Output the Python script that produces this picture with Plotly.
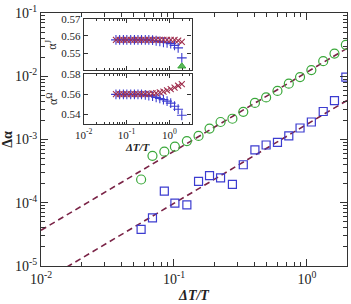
import plotly.graph_objects as go

# ---------------- data ----------------
dT = [0.0566, 0.0689, 0.0846, 0.1016, 0.125, 0.153, 0.185, 0.224, 0.275, 0.332,
      0.406, 0.493, 0.600, 0.730, 0.887, 1.079, 1.325, 1.61, 1.96]

dalpha_circ = [2.33e-4, 5.51e-4, 6.43e-4, 7.69e-4, 9.44e-4, 1.14e-3, 1.49e-3, 1.89e-3,
               2.13e-3, 2.74e-3, 3.78e-3, 4.62e-3, 5.87e-3, 7.64e-3, 9.72e-3, 1.25e-2,
               1.73e-2, 2.28e-2, 3.14e-2]
dalpha_sq = [3.79e-5, 5.75e-5, 1.53e-4, 9.86e-5, 9.27e-5, 2.17e-4, 2.69e-4, 2.48e-4,
             1.95e-4, 3.99e-4, 6.84e-4, 8.18e-4, 9.02e-4, 1.14e-3, 1.52e-3, 1.89e-3,
             2.77e-3, 4.11e-3, 9.72e-3]

fit_exponent = 1.25
fit_amp_upper = 10 ** -1.935
fit_amp_lower = 10 ** -2.759
fit_x = [0.01, 2.0]

# inset top (alpha^J)
aJ_x = [0.5577] * 17 + [0.5572, 0.5565]
aJ_plus = [0.5577] * 10 + [0.5575, 0.5572, 0.5568, 0.5563, 0.5560, 0.5555, 0.5545, 0.5530, 0.5472]
aJ_tri_x = [1.96]
aJ_tri = [0.5423]

# inset bottom (alpha^Omega)
aO_x = [0.5600] * 9 + [0.5603, 0.5607, 0.5610, 0.5617, 0.5625, 0.5637, 0.5650, 0.5665, 0.5683, 0.5700]
aO_plus = [0.5597] * 8 + [0.5592, 0.5585, 0.5580, 0.5568, 0.5557, 0.5545, 0.5530, 0.5510, 0.5480, 0.5450, 0.5390]

# tick labels
x_tickvals = [0.01, 0.1, 1]
x_ticktext = ["10<sup>-2</sup>", "10<sup>-1</sup>", "10<sup>0</sup>"]
y_tickvals = [1e-5, 1e-4, 1e-3, 1e-2, 1e-1]
y_ticktext = ["10<sup>-5</sup>", "10<sup>-4</sup>", "10<sup>-3</sup>", "10<sup>-2</sup>", "10<sup>-1</sup>"]

# ---------------- styles ----------------
GREEN = "#3aa83a"
BLUE = "#3c3cd0"
MAROON = "#7a2346"
XMAROON = "#a0304f"
FONT = "Liberation Serif"


def minor_vals(lo_exp, hi_exp):
    out = []
    for e in range(lo_exp, hi_exp + 1):
        for m in range(2, 10):
            out.append(m * 10.0 ** e)
    return out


fig = go.Figure()

# fitted dashed lines
for amp in (fit_amp_upper, fit_amp_lower):
    fig.add_trace(go.Scatter(x=fit_x, y=[amp * v ** fit_exponent for v in fit_x],
                             mode="lines", line=dict(color=MAROON, width=1.6, dash="6px,4px"),
                             xaxis="x", yaxis="y", showlegend=False))

fig.add_trace(go.Scatter(x=dT, y=dalpha_circ, mode="markers",
                         marker=dict(symbol="circle-open", size=9, color=GREEN, line=dict(width=1.2)),
                         xaxis="x", yaxis="y", showlegend=False))
fig.add_trace(go.Scatter(x=dT, y=dalpha_sq, mode="markers",
                         marker=dict(symbol="square-open", size=8, color=BLUE, line=dict(width=1.2)),
                         xaxis="x", yaxis="y", showlegend=False))

# inset top
fig.add_trace(go.Scatter(x=dT, y=aJ_plus, mode="markers",
                         marker=dict(symbol="cross-thin-open", size=7, color=BLUE, line=dict(width=1.1, color=BLUE)),
                         xaxis="x2", yaxis="y2", showlegend=False))
fig.add_trace(go.Scatter(x=dT, y=aJ_x, mode="markers",
                         marker=dict(symbol="x-thin-open", size=6, color=XMAROON, line=dict(width=1.1, color=XMAROON)),
                         xaxis="x2", yaxis="y2", showlegend=False))
fig.add_trace(go.Scatter(x=aJ_tri_x, y=aJ_tri, mode="markers",
                         marker=dict(symbol="triangle-up", size=7, color="#5ab85a", line=dict(width=1, color=GREEN)),
                         xaxis="x2", yaxis="y2", showlegend=False))

# inset bottom
fig.add_trace(go.Scatter(x=dT, y=aO_plus, mode="markers",
                         marker=dict(symbol="cross-thin-open", size=7, color=BLUE, line=dict(width=1.1, color=BLUE)),
                         xaxis="x3", yaxis="y3", showlegend=False))
fig.add_trace(go.Scatter(x=dT, y=aO_x, mode="markers",
                         marker=dict(symbol="x-thin-open", size=6, color=XMAROON, line=dict(width=1.1, color=XMAROON)),
                         xaxis="x3", yaxis="y3", showlegend=False))

axis_common = dict(showline=True, linecolor="#333", linewidth=1.3, mirror="allticks",
                   ticks="inside", tickcolor="#333", showgrid=False, zeroline=False)

ins_x = [0.1397, 0.492]
x_minor = dict(ticks="inside", ticklen=4, tickcolor="#333", tickmode="array", tickvals=minor_vals(-2, 0))
y_minor = dict(ticks="inside", ticklen=4, tickcolor="#333", tickmode="array", tickvals=minor_vals(-5, -2))
ix_minor = dict(ticks="inside", ticklen=2, tickcolor="#333", tickmode="array", tickvals=minor_vals(-2, 0))

fig.update_layout(
    width=351, height=304,
    margin=dict(l=33, r=3, t=11, b=36),
    paper_bgcolor="white", plot_bgcolor="white",
    font=dict(family=FONT, color="#222", size=14),
    xaxis=dict(type="log", range=[-2, 0.301], tickmode="array", tickvals=x_tickvals, ticktext=x_ticktext,
               ticklen=7, minor=x_minor, tickfont=dict(size=14),
               title=dict(text="<b><i>ΔT/T</i></b>", font=dict(size=14), standoff=4),
               **axis_common),
    yaxis=dict(type="log", range=[-5, -1], tickmode="array", tickvals=y_tickvals, ticktext=y_ticktext,
               ticklen=7, minor=y_minor, tickfont=dict(size=14),
               title=dict(text="<b>Δα</b>", font=dict(size=14), standoff=2),
               **axis_common),
    xaxis2=dict(type="log", range=[-2, 0.52], tickmode="array", tickvals=x_tickvals, domain=ins_x,
                anchor="y2", showticklabels=False, ticklen=4, minor=ix_minor, **axis_common),
    yaxis2=dict(range=[0.54, 0.57], tickvals=[0.55, 0.56, 0.57], domain=[0.774, 0.977],
                anchor="x2", ticklen=4, tickfont=dict(size=11), tickformat=".2f",
                **axis_common),
    xaxis3=dict(type="log", range=[-2, 0.52], tickmode="array", tickvals=x_tickvals, ticktext=x_ticktext,
                domain=ins_x, anchor="y3", ticklen=4, tickfont=dict(size=11), minor=ix_minor,
                title=dict(text="<b><i>ΔT/T</i></b>", font=dict(size=11), standoff=1),
                **axis_common),
    yaxis3=dict(range=[0.53, 0.58], tickvals=[0.54, 0.56, 0.58], domain=[0.560, 0.759],
                anchor="x3", ticklen=4, tickfont=dict(size=11), tickformat=".2f",
                **axis_common),
    annotations=[
        dict(text="α<sup>J</sup>", x=0.036, y=0.875, xref="paper", yref="paper",
             textangle=-90, showarrow=False, font=dict(size=12), xanchor="center", yanchor="middle"),
        dict(text="α<sup>Ω</sup>", x=0.036, y=0.66, xref="paper", yref="paper",
             textangle=-90, showarrow=False, font=dict(size=12), xanchor="center", yanchor="middle"),
    ],
)

fig.write_html("out.html")
